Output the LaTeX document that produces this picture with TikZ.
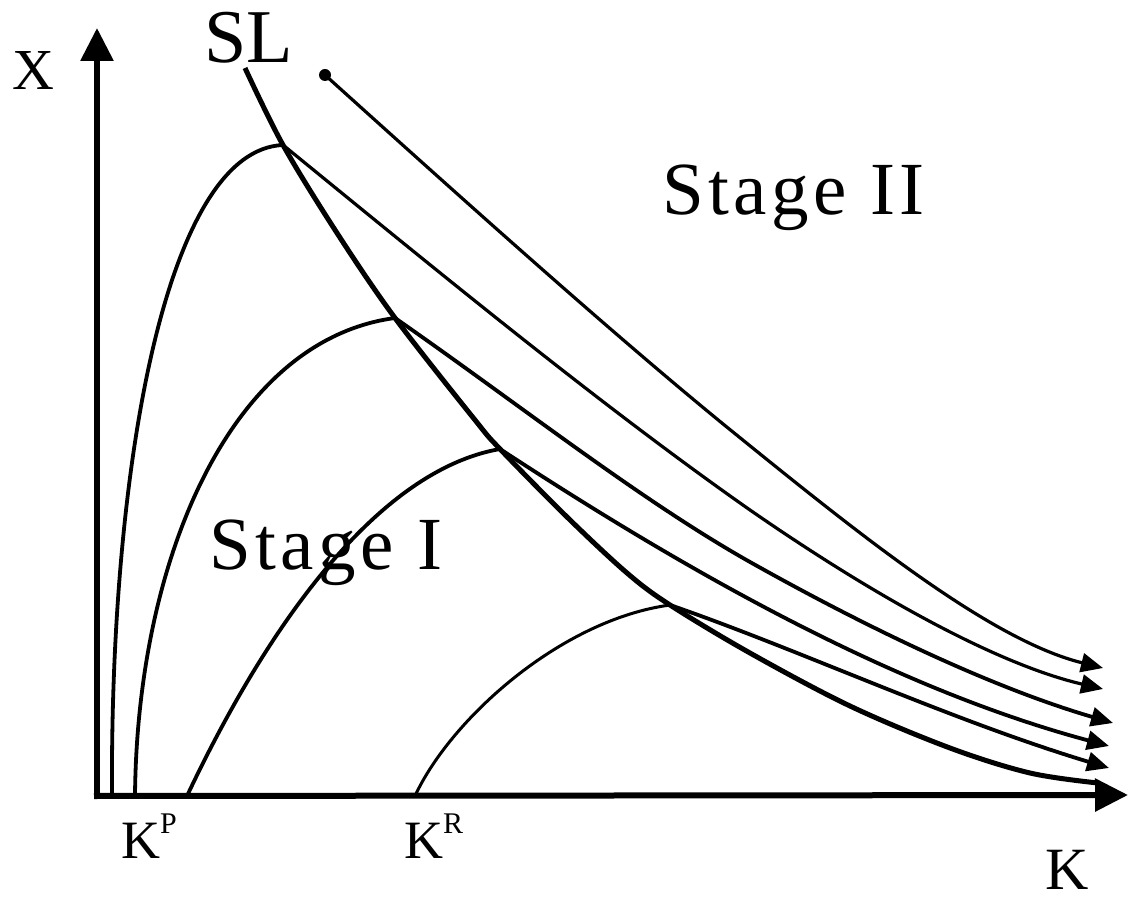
\documentclass[tikz,border=0pt]{standalone}
\usepackage{fontspec}
\setmainfont{Liberation Serif}
\newfontfamily\spacedfont[LetterSpace=6]{Liberation Serif}
\usetikzlibrary{arrows.meta}
\begin{document}
\begin{tikzpicture}[x=1pt,y=-1pt,
  axisline/.style={line width=6pt,-{Triangle[length=33pt,width=32pt]}},
  curvearrow/.style={-{Triangle[length=22pt,width=19pt]}},
  lbl/.style={anchor=base west,inner sep=0pt},
  sm/.style={smooth,tension=0.55}]
\useasboundingbox (0,0) rectangle (1128,901);
% key points
\coordinate (yt) at (97,28);
\coordinate (xt) at (1128,795);
\coordinate (p1) at (283,145);
\coordinate (p2) at (395,318);
\coordinate (p3) at (500,449);
\coordinate (p4) at (670,605);
\coordinate (dot) at (325,75);
\coordinate (b1) at (112,796);
\coordinate (b2) at (135,796);
\coordinate (b3) at (187,796);
\coordinate (b4) at (415,796);
\coordinate (e0) at (1103,668);
\coordinate (e1) at (1103,689);
\coordinate (e2) at (1113,723);
\coordinate (e3) at (1109,746);
\coordinate (e4) at (1109,768);
\coordinate (m0) at (728,428);
\coordinate (m1) at (750,510);
\coordinate (m2) at (750,562);
% axes
\draw[axisline] (97,799) -- (yt);
\draw[axisline] (94,796) -- (xt);
% arcs (stage I)
\draw[line width=3.8pt] (b1) .. controls (110,470) and (165,150) .. (p1);
\draw[line width=3.8pt] (b2) .. controls (137,560) and (230,340) .. (p2);
\draw[line width=3.8pt] (b3) .. controls (270,620) and (380,470) .. (p3);
\draw[line width=3pt] (b4) .. controls (450,720) and (560,620) .. (p4);
% SL
\draw[line width=5pt] plot[sm] coordinates {(245,68) (p1) (337,233) (p2) (475,420) (p3) (567,517) (627,573) (p4) (750,653) (850,706) (950,748) (1030,773) (1098,783)};
% stage II paths
\fill (dot) circle (6pt);
\draw[line width=3.2pt,curvearrow] (dot) .. controls (480,215) and (620,340) .. (m0) .. controls (860,535) and (990,640) .. (e0);
\draw[line width=3.2pt,curvearrow] (p1) .. controls (430,265) and (600,405) .. (m1) .. controls (880,600) and (1000,665) .. (e1);
\draw[line width=3.8pt,curvearrow] (p2) .. controls (520,405) and (640,500) .. (m2) .. controls (880,635) and (1000,690) .. (e2);
\draw[line width=3.8pt,curvearrow] (p3) .. controls (700,580) and (900,690) .. (e3);
\draw[line width=3.8pt,curvearrow] (p4) .. controls (800,650) and (950,720) .. (e4);
% labels
\node[lbl,font=\fontsize{58}{58}\selectfont] (lx) at (12,90) {X};
\node[lbl,font=\fontsize{76}{76}\selectfont] (lsl) at (204,63) {SL};
\node[lbl,font=\fontsize{75}{75}\spacedfont] (ls2) at (662,215) {Stage II};
\node[lbl,font=\fontsize{75}{75}\spacedfont] (ls1) at (209,569) {Stage I};
\node[lbl,font=\fontsize{54}{54}\selectfont] (lkp) at (121,858) {K\raisebox{25pt}{\fontsize{30}{30}\selectfont P}};
\node[lbl,font=\fontsize{54}{54}\selectfont] (lkr) at (404,858) {K\raisebox{25pt}{\fontsize{30}{30}\selectfont R}};
\node[lbl,font=\fontsize{60}{60}\selectfont] (lk) at (1045,889) {K};
\end{tikzpicture}
\end{document}
